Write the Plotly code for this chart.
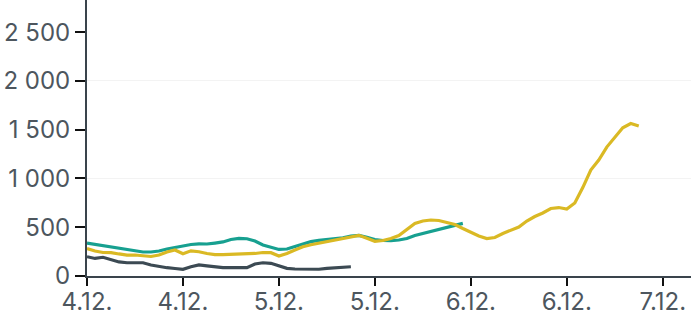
import pandas as pd
import plotly.graph_objects as go

start = "2020-12-04 00:00"

grey_vals = [198, 180, 192, 170, 144, 136, 136, 136, 113, 97, 85, 77, 69, 95, 113, 103,
             92, 85, 85, 85, 85, 123, 136, 130, 108, 79, 72, 72, 69, 69, 79, 82, 87, 95]

teal_vals = [338, 325, 313, 297, 282, 270, 256, 246, 246, 256, 277, 294, 308, 323, 330, 328,
             338, 349, 374, 386, 382, 359, 318, 297, 272, 277, 302, 333, 352, 366, 374, 381,
             392, 410, 417, 397, 374, 364, 362, 369, 384, 415, 436, 451, 477, 497, 518, 540]

yellow_vals = [282, 256, 241, 239, 226, 215, 215, 205, 200, 215, 246, 267, 229, 258, 249, 231,
               219, 220, 222, 222, 222, 231, 241, 239, 205, 231, 267, 300, 321, 338, 357, 372,
               386, 400, 417, 386, 356, 364, 384, 415, 472, 538, 564, 574, 569, 548, 528, 487,
               446, 410, 384, 395, 436, 472, 502, 564, 610, 646, 692, 702, 687, 748, 907, 1087,
               1189, 1322, 1425, 1520, 1563, 1538]

y_ticks = [0, 500, 1000, 1500, 2000, 2500]
y_tick_text = ["0", "500", "1 000", "1 500", "2 000", "2 500"]

series = [
    ("grey", grey_vals, "#3c4a53"),
    ("teal", teal_vals, "#17a090"),
    ("yellow", yellow_vals, "#dab924"),
]

fig = go.Figure()
for name, vals, color in series:
    xs = pd.date_range(start, periods=len(vals), freq="h")
    fig.add_trace(go.Scatter(x=xs, y=vals, mode="lines", name=name,
                             line=dict(color=color, width=3.2), showlegend=False))

# empty trace carrying the gridline axis
fig.add_trace(go.Scatter(x=[], y=[], yaxis="y2", showlegend=False))

axis_color = "#3a444c"
font_color = "#4d565e"
font_family = "Inter"

fig.update_layout(
    width=691, height=317,
    margin=dict(l=87, r=0, t=0, b=41, autoexpand=False),
    paper_bgcolor="white", plot_bgcolor="white",
    font=dict(family=font_family, size=24, color=font_color),
    xaxis=dict(
        type="date", automargin=False,
        range=["2020-12-04 00:00", "2020-12-07 03:32"],
        tick0="2020-12-04 00:00", dtick=12 * 3600 * 1000,
        tickformat="%-d.%-m.",
        showgrid=False, zeroline=False,
        showline=True, linecolor=axis_color, linewidth=2,
        ticks="outside", ticklen=8, tickwidth=2, tickcolor="#111111",
        ticklabelstandoff=-5,
        tickfont=dict(family=font_family, size=24, color=font_color),
    ),
    yaxis=dict(
        range=[0, 2830], automargin=False,
        tickvals=y_ticks, ticktext=y_tick_text,
        showgrid=False, zeroline=False,
        showline=True, linecolor=axis_color, linewidth=2,
        ticks="outside", ticklen=10, tickwidth=2, tickcolor="#111111",
        tickfont=dict(family=font_family, size=24, color=font_color),
    ),
    yaxis2=dict(
        range=[0, 2830], overlaying="y", side="left", automargin=False,
        dtick=1000, showgrid=True, gridcolor="#f3f3f3", gridwidth=1,
        showticklabels=False, zeroline=False, showline=False, ticks="",
    ),
)

fig.write_html("out.html")
